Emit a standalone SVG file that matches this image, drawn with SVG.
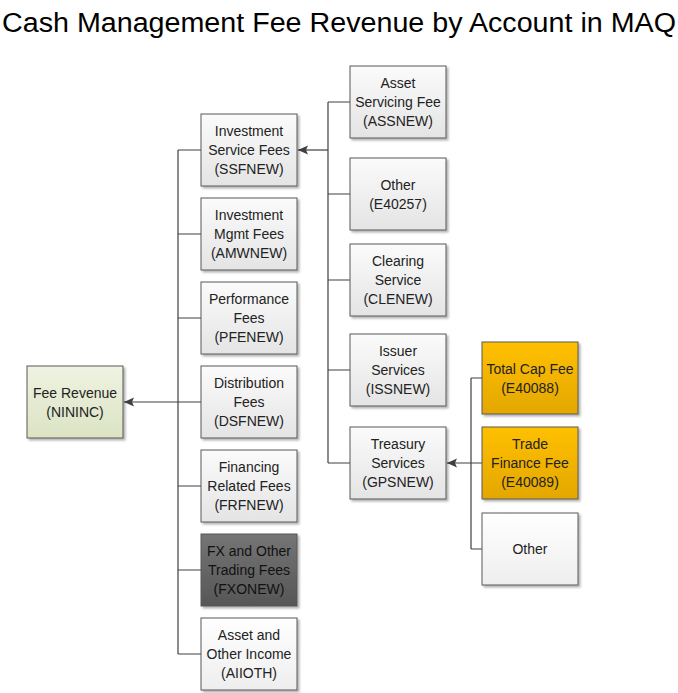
<svg xmlns="http://www.w3.org/2000/svg" width="678" height="693" viewBox="0 0 678 693">
<defs>
<linearGradient id="gGrey" x1="0" y1="0" x2="0" y2="1"><stop offset="0" stop-color="#fbfbfb"/><stop offset="1" stop-color="#e4e4e4"/></linearGradient>
<linearGradient id="gGreen" x1="0" y1="0" x2="0" y2="1"><stop offset="0" stop-color="#eff3e2"/><stop offset="1" stop-color="#dbe3c3"/></linearGradient>
<linearGradient id="gGold" x1="0" y1="0" x2="0" y2="1"><stop offset="0" stop-color="#ffc000"/><stop offset="1" stop-color="#e3a700"/></linearGradient>
<linearGradient id="gDark" x1="0" y1="0" x2="0" y2="1"><stop offset="0" stop-color="#757575"/><stop offset="1" stop-color="#565656"/></linearGradient>
<linearGradient id="gWhite" x1="0" y1="0" x2="0" y2="1"><stop offset="0" stop-color="#ffffff"/><stop offset="1" stop-color="#eeeeee"/></linearGradient>
<filter id="sh" x="-10%" y="-10%" width="130%" height="130%"><feDropShadow dx="2" dy="2" stdDeviation="1.2" flood-color="#000" flood-opacity="0.3"/></filter>
<marker id="arr" viewBox="0 0 10 10" refX="10" refY="5" markerWidth="10" markerHeight="10" markerUnits="userSpaceOnUse" orient="auto"><path d="M10,5 L0,0.5 L2,5 L0,9.5 Z" fill="#404040"/></marker>
</defs>
<style>
.box{stroke:#595959;stroke-width:1;filter:url(#sh)}
.grey{fill:url(#gGrey)}
.green{fill:url(#gGreen)}
.gold{fill:url(#gGold)}
.dark{fill:url(#gDark)}
.white{fill:url(#gWhite)}
text{font-family:"Liberation Sans",Arial,sans-serif;font-size:14px;fill:#222;text-anchor:middle}
.title{font-size:27px;fill:#000;text-anchor:start}
.dt{fill:#111}
.con{fill:none;stroke:#404040;stroke-width:1.2}
</style>
<rect width="678" height="693" fill="#fff"/>
<text class="title" x="2" y="32" textLength="674" lengthAdjust="spacingAndGlyphs">Cash Management Fee Revenue by Account in MAQ</text>

<g id="connectors">
<path class="con" d="M178,150 V654 M178,150 H201 M178,234 H201 M178,318 H201 M178,486 H201 M178,570 H201 M178,654 H201"/>
<path class="con" d="M201,402 H124" marker-end="url(#arr)"/>
<path class="con" d="M328,102 V463 M328,102 H350 M328,194 H350 M328,280 H350 M328,370 H350 M328,463 H350"/>
<path class="con" d="M328,150 H298" marker-end="url(#arr)"/>
<path class="con" d="M471,378 V549 M471,378 H482 M471,549 H482"/>
<path class="con" d="M482,463 H447" marker-end="url(#arr)"/>
</g>

<g id="fee-revenue"><rect class="box green" x="27" y="366" width="96" height="72"/><text x="75" y="397.5">Fee Revenue</text><text x="75" y="416.5">(NININC)</text></g>

<g id="ssfnew"><rect class="box grey" x="201" y="114" width="96" height="72"/><text x="249" y="136">Investment</text><text x="249" y="155">Service Fees</text><text x="249" y="174">(SSFNEW)</text></g>
<g id="amwnew"><rect class="box grey" x="201" y="198" width="96" height="72"/><text x="249" y="220">Investment</text><text x="249" y="239">Mgmt Fees</text><text x="249" y="258">(AMWNEW)</text></g>
<g id="pfenew"><rect class="box grey" x="201" y="282" width="96" height="72"/><text x="249" y="304">Performance</text><text x="249" y="323">Fees</text><text x="249" y="342">(PFENEW)</text></g>
<g id="dsfnew"><rect class="box grey" x="201" y="366" width="96" height="72"/><text x="249" y="388">Distribution</text><text x="249" y="407">Fees</text><text x="249" y="426">(DSFNEW)</text></g>
<g id="frfnew"><rect class="box grey" x="201" y="450" width="96" height="72"/><text x="249" y="472">Financing</text><text x="249" y="491">Related Fees</text><text x="249" y="510">(FRFNEW)</text></g>
<g id="fxonew"><rect class="box dark" x="201" y="534" width="96" height="72"/><text class="dt" x="249" y="556">FX and Other</text><text class="dt" x="249" y="575">Trading Fees</text><text class="dt" x="249" y="594">(FXONEW)</text></g>
<g id="aiioth"><rect class="box white" x="201" y="618" width="96" height="72"/><text x="249" y="640">Asset and</text><text x="249" y="659">Other Income</text><text x="249" y="678">(AIIOTH)</text></g>

<g id="assnew"><rect class="box grey" x="350" y="66" width="96" height="72"/><text x="398" y="88">Asset</text><text x="398" y="107">Servicing Fee</text><text x="398" y="126">(ASSNEW)</text></g>
<g id="e40257"><rect class="box grey" x="350" y="158" width="96" height="72"/><text x="398" y="189.5">Other</text><text x="398" y="208.5">(E40257)</text></g>
<g id="clenew"><rect class="box grey" x="350" y="244" width="96" height="72"/><text x="398" y="266">Clearing</text><text x="398" y="285">Service</text><text x="398" y="304">(CLENEW)</text></g>
<g id="issnew"><rect class="box grey" x="350" y="334" width="96" height="72"/><text x="398" y="356">Issuer</text><text x="398" y="375">Services</text><text x="398" y="394">(ISSNEW)</text></g>
<g id="gpsnew"><rect class="box grey" x="350" y="427" width="96" height="72"/><text x="398" y="449">Treasury</text><text x="398" y="468">Services</text><text x="398" y="487">(GPSNEW)</text></g>

<g id="e40088"><rect class="box gold" x="482" y="342" width="96" height="72"/><text x="530" y="373.5">Total Cap Fee</text><text x="530" y="392.5">(E40088)</text></g>
<g id="e40089"><rect class="box gold" x="482" y="427" width="96" height="72"/><text x="530" y="449">Trade</text><text x="530" y="468">Finance Fee</text><text x="530" y="487">(E40089)</text></g>
<g id="other-treasury"><rect class="box white" x="482" y="513" width="96" height="72"/><text x="530" y="554">Other</text></g>
</svg>
